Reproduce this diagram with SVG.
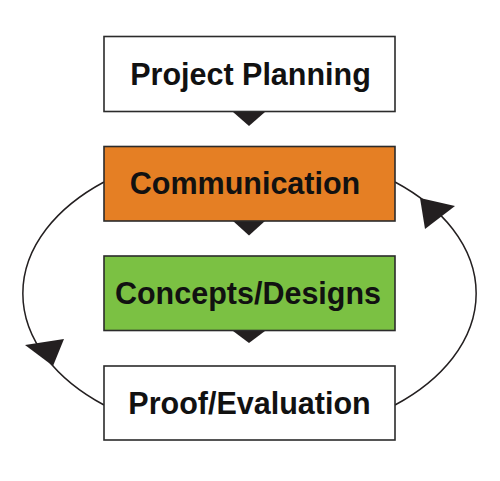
<svg xmlns="http://www.w3.org/2000/svg" width="500" height="481" viewBox="0 0 500 481">
<style>
.box{stroke:#2b2b2b;stroke-width:1.6}
.lbl{font-family:"Liberation Sans",Arial,sans-serif;font-weight:bold;font-size:30.5px;fill:#111;text-anchor:middle}
.tri{fill:#231f20}
.arc{fill:none;stroke:#231f20;stroke-width:1.5}
</style>
<rect width="500" height="481" fill="#ffffff"/>
<g id="connectors">
<path class="arc" d="M104,182 A225,145 0 0 0 104,405"/>
<path class="arc" d="M395,405 A225,145 0 0 0 395,182"/>
<polygon class="tri" points="25,345 64,339 53,366"/>
<polygon class="tri" points="420,198 455,206 425,229"/>
<polygon class="tri" points="233,112 265,112 249,126"/>
<polygon class="tri" points="233,221 265,221 249,235.5"/>
<polygon class="tri" points="233,331 265,331 249,343"/>
</g>
<g id="project-planning">
<rect class="box" x="104" y="36.5" width="291" height="75" fill="#ffffff"/>
<text class="lbl" x="250.5" y="85">Project Planning</text>
</g>
<g id="communication">
<rect class="box" x="104" y="146.5" width="291" height="74.5" fill="#e57f24"/>
<text class="lbl" x="245" y="194">Communication</text>
</g>
<g id="concepts-designs">
<rect class="box" x="104" y="256" width="291" height="74.5" fill="#7bc143"/>
<text class="lbl" x="248" y="304">Concepts/Designs</text>
</g>
<g id="proof-evaluation">
<rect class="box" x="104" y="366" width="291" height="74" fill="#ffffff"/>
<text class="lbl" x="249.5" y="414">Proof/Evaluation</text>
</g>
</svg>
